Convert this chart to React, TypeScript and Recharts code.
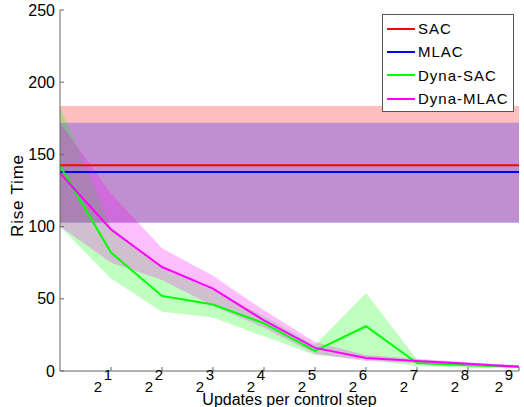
import {
  ComposedChart,
  Area,
  Line,
  XAxis,
  YAxis,
  ReferenceArea,
  ReferenceLine,
} from 'recharts'

// updates per control step (log2 axis)
const updates = [1, 2, 4, 8, 16, 32, 64, 128, 256, 512]
const xTicks = [2, 4, 8, 16, 32, 64, 128, 256, 512]
const yTicks = [0, 50, 100, 150, 200, 250]

const dynaSacMean = [142, 82, 52, 46, 33, 14, 31, 5.5, 4, 3]
const dynaSacLow = [100, 64, 41, 37, 24, 11, 8, 3.5, 2.5, 2]
const dynaSacHigh = [183, 100, 71, 56, 38, 18, 54, 8, 5.5, 4]

const dynaMlacMean = [137, 98, 72, 57, 35, 16, 9, 7, 5, 3]
const dynaMlacLow = [100, 75, 63, 45, 30, 12, 7, 5.5, 4, 2.5]
const dynaMlacHigh = [172, 123, 85, 66, 42, 20, 11, 8.5, 6, 4]

// flat baselines: [mean, low, high]
const sacBand = [142.5, 103, 183.5]
const mlacBand = [137.8, 102.5, 172]

const legendItems = [
  { name: 'SAC', color: '#ff0000' },
  { name: 'MLAC', color: '#0000ff' },
  { name: 'Dyna-SAC', color: '#00ff00' },
  { name: 'Dyna-MLAC', color: '#ff00ff' },
]

const data = updates.map((u, i) => ({
  u,
  sac: dynaSacMean[i],
  sacRange: [dynaSacLow[i], dynaSacHigh[i]],
  mlac: dynaMlacMean[i],
  mlacRange: [dynaMlacLow[i], dynaMlacHigh[i]],
}))

const FONT = '"Liberation Sans", Arial, sans-serif'

function PowerTick(props: any) {
  const { x, y, payload } = props
  const exp = Math.round(Math.log2(payload.value))
  return (
    <g fontFamily={FONT} fontSize={15}>
      <text x={x - 9} y={y + 21} textAnchor="end" fill="#000">
        2
      </text>
      <text x={x + 1} y={y + 9} textAnchor="end" fill="#000">
        {exp}
      </text>
    </g>
  )
}

function BoxLegend() {
  return (
    <div
      style={{
        position: 'absolute',
        left: 382,
        top: 14,
        width: 130,
        height: 94,
        boxSizing: 'content-box',
        background: '#fff',
        border: '1px solid #555',
        paddingTop: 2,
        fontFamily: FONT,
        fontSize: 15,
        letterSpacing: 1,
      }}
    >
      {legendItems.map((item) => (
        <div
          key={item.name}
          style={{ display: 'flex', alignItems: 'center', height: 23.3, paddingLeft: 4 }}
        >
          <div style={{ width: 28, height: 2, background: item.color, marginRight: 3 }} />
          {item.name}
        </div>
      ))}
    </div>
  )
}

export default function App() {
  return (
    <div style={{ position: 'absolute', left: 0, top: 0, width: 524, height: 407, background: '#fff' }}>
      <ComposedChart
        width={524}
        height={407}
        data={data}
        margin={{ top: 10, right: 5, left: 0, bottom: 0 }}
      >
        <ReferenceArea y1={sacBand[1]} y2={sacBand[2]} fill="#ff0000" fillOpacity={0.25} stroke="none" />
        <ReferenceArea y1={mlacBand[1]} y2={mlacBand[2]} fill="#0000ff" fillOpacity={0.25} stroke="none" />
        <XAxis
          dataKey="u"
          type="number"
          scale="log"
          domain={[1, 512]}
          ticks={xTicks}
          height={36}
          stroke="#666"
          tickSize={-4}
          tickMargin={4}
          tick={<PowerTick />}
          label={{
            value: 'Updates per control step',
            position: 'insideBottom',
            offset: 2,
            fill: '#000',
            fontSize: 16,
            fontFamily: FONT,
          }}
        />
        <YAxis
          type="number"
          domain={[0, 250]}
          ticks={yTicks}
          width={60}
          stroke="#666"
          tickSize={-4}
          tickMargin={9}
          tick={{ fill: '#000', fontSize: 16, fontFamily: FONT }}
          label={{
            value: 'Rise Time',
            angle: -90,
            position: 'center',
            dx: -13,
            dy: 5,
            fill: '#000',
            fontSize: 17,
            letterSpacing: 0.8,
            fontFamily: FONT,
          }}
        />
        <Area
          dataKey="sacRange"
          type="linear"
          stroke="none"
          fill="#00ff00"
          fillOpacity={0.25}
          isAnimationActive={false}
        />
        <Area
          dataKey="mlacRange"
          type="linear"
          stroke="none"
          fill="#ff00ff"
          fillOpacity={0.25}
          isAnimationActive={false}
        />
        <ReferenceLine y={sacBand[0]} stroke="#ff0000" strokeWidth={2} />
        <ReferenceLine y={mlacBand[0]} stroke="#0000ff" strokeWidth={2} />
        <Line
          dataKey="sac"
          type="linear"
          stroke="#00ff00"
          strokeWidth={2}
          dot={false}
          isAnimationActive={false}
        />
        <Line
          dataKey="mlac"
          type="linear"
          stroke="#ff00ff"
          strokeWidth={2}
          dot={false}
          isAnimationActive={false}
        />
      </ComposedChart>
      <BoxLegend />
    </div>
  )
}
